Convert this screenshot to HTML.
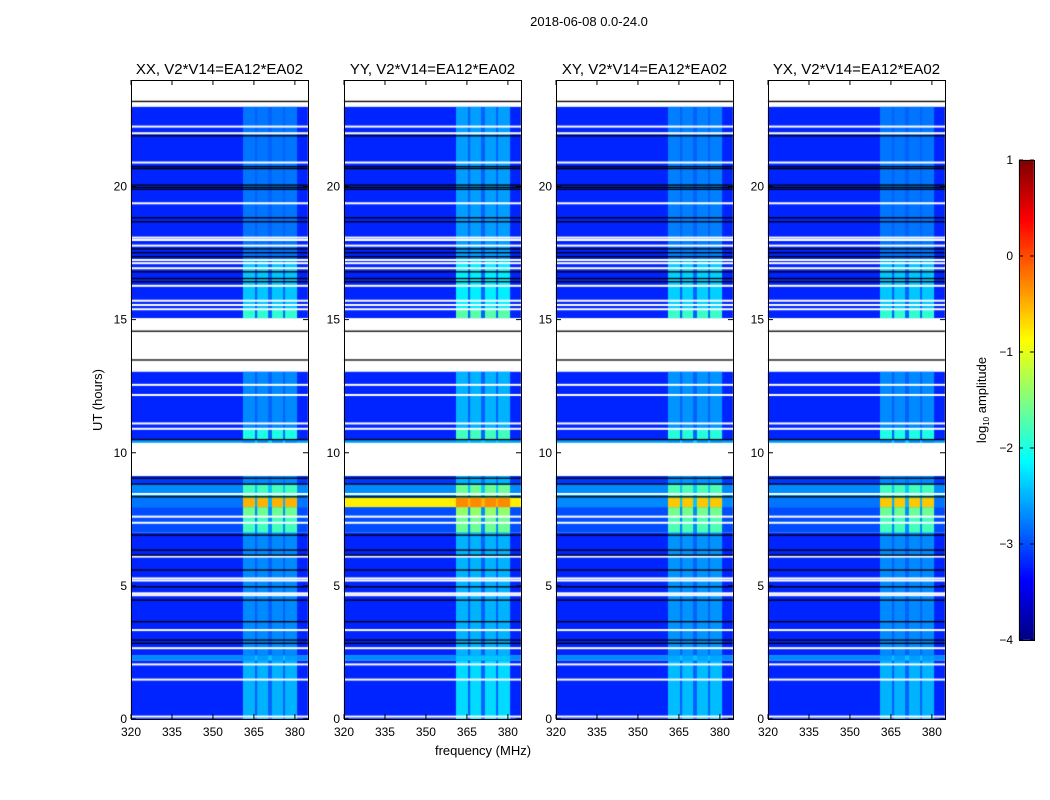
<!DOCTYPE html>
<html><head><meta charset="utf-8">
<style>
body{margin:0;background:#fff;}
#wrap{position:relative;width:1050px;height:800px;overflow:hidden;font-family:"Liberation Sans",sans-serif;}
canvas,svg{position:absolute;left:0;top:0;}
</style></head>
<body>
<div id="wrap">
<canvas id="cv" width="1050" height="800"></canvas>
<svg id="sv" width="1050" height="800"></svg>
</div>
<script>
// ---- data ----
const panelTitles = ["XX, V2*V14=EA12*EA02","YY, V2*V14=EA12*EA02","XY, V2*V14=EA12*EA02","YX, V2*V14=EA12*EA02"];
const xTicks = [320,335,350,365,380];
const yTicks = [0,5,10,15,20];
const cbTicks = [1,0,-1,-2,-3,-4];
// time segments: [startHour, endHour, baseLevel, bandLevel]
const segStart = [0,2.2,2.4,7.0,7.6,7.96,8.3,8.8,10.37,10.5,10.9,15.05,15.4,17.2];
const segEnd   = [2.2,2.4,7.0,7.6,7.96,8.3,8.8,9.13,10.5,10.9,13.05,15.4,17.2,23.0];
const segBase  = [-3.2,-2.7,-3.2,-3.0,-3.0,-2.8,-2.7,-3.1,-2.6,-3.2,-3.2,-3.2,-3.2,-3.2];
const segBand  = [-2.5,-2.6,-2.7,-1.8,-1.6,-0.5,-1.8,-2.7,-2.7,-2.0,-2.7,-1.9,-2.4,-2.8];
const hotSeg = 5;
const hotRowBase = [-2.8,-0.8,-2.7,-2.8];
const hotRowBand = [-0.5,-0.3,-0.6,-0.6];
const bandOffset = [0,0.2,0.05,0];
// bright frequency bands (MHz)
const bandLo = [361,366.2,371.6,376.4];
const bandHi = [365.4,370.2,375.7,380.8];
// flagged (white) gaps in hours
const gapLo = [23.0,13.05,9.13];
const gapHi = [24.0,15.05,10.37];
const whiteLines = [22.25,22.0,20.9,19.37,18.08,17.99,17.78,17.24,17.12,16.93,16.27,15.71,15.55,15.39,12.55,12.17,11.1,10.9,8.45,7.6,7.37,6.1,5.2,5.28,4.65,4.72,3.34,2.66,2.05,1.48,0.09];
const blackLines = [23.2,21.91,20.75,20.68,20.06,19.97,19.9,18.83,18.68,17.66,17.52,17.37,16.8,16.55,16.43,14.57,13.49,10.5,9.05,8.83,8.35,6.91,6.35,6.16,5.6,4.97,4.47,3.66,2.97,2.85];

// ---- geometry ----
const lefts=[131,344,556,768], PW=177, TOP=80, BOT=719;
const fMin=320, fMax=384.8, tMin=0, tMax=24;
function xs(i,f){return lefts[i]+(f-fMin)/(fMax-fMin)*PW;}
function ys(h){return BOT-(h-tMin)/(tMax-tMin)*(BOT-TOP);}
function jet(v){
  let t=Math.max(0,Math.min(1,(v+4)/5));
  function c(x){return Math.round(255*Math.max(0,Math.min(1,x)));}
  const r=c(Math.min(4*t-1.5,-4*t+4.5)), g=c(Math.min(4*t-0.5,-4*t+3.5)), b=c(Math.min(4*t+0.5,-4*t+2.5));
  return `rgb(${r},${g},${b})`;
}
const cv=document.getElementById('cv'), ctx=cv.getContext('2d');
for(let p=0;p<4;p++){
  for(let s=0;s<segStart.length;s++){
    const y0=ys(segEnd[s]), y1=ys(segStart[s]);
    let base=segBase[s], band=segBand[s];
    if(s===hotSeg){base=hotRowBase[p];band=hotRowBand[p];}
    else band+=bandOffset[p];
    ctx.fillStyle=jet(base);
    ctx.fillRect(lefts[p],y0,PW,y1-y0);
    ctx.fillStyle=jet(base+0.3);
    ctx.fillRect(xs(p,bandLo[0]),y0,xs(p,bandHi[3])-xs(p,bandLo[0]),y1-y0);
    for(let b=0;b<bandLo.length;b++){
      ctx.fillStyle=jet(band);
      ctx.fillRect(xs(p,bandLo[b]),y0,xs(p,bandHi[b])-xs(p,bandLo[b]),y1-y0);
    }
  }
  ctx.fillStyle='#fff';
  for(let g=0;g<gapLo.length;g++) ctx.fillRect(lefts[p],ys(gapHi[g]),PW,ys(gapLo[g])-ys(gapHi[g]));
  for(const h of whiteLines) ctx.fillRect(lefts[p],ys(h)-1,PW,2);
  ctx.fillStyle='#000';
  for(const h of blackLines) ctx.fillRect(lefts[p],ys(h)-0.5,PW,1.3);
}
// colorbar
const CBX=1019,CBW=15,CBT=160,CBB=640;
for(let y=CBT;y<CBB;y++){const v=1-(y-CBT)/(CBB-CBT)*5;ctx.fillStyle=jet(v);ctx.fillRect(CBX,y,CBW,1);}

// ---- svg axes ----
const sv=document.getElementById('sv'), NS='http://www.w3.org/2000/svg';
function el(tag,attrs,txt){const e=document.createElementNS(NS,tag);for(const k in attrs)e.setAttribute(k,attrs[k]);if(txt!==undefined)e.textContent=txt;sv.appendChild(e);return e;}
for(let p=0;p<4;p++){
  const r=el('rect',{x:lefts[p]+0.5,y:TOP+0.5,width:PW,height:BOT-TOP,fill:'none',stroke:'#000','stroke-width':1});
  
  
  const t=el('text',{x:lefts[p]+PW/2,y:74,'text-anchor':'middle','font-size':15},panelTitles[p]);
  
  
  for(const f of xTicks){
    const x=xs(p,f);
    el('line',{x1:x,x2:x,y1:BOT,y2:BOT-5,stroke:'#000'});
    el('line',{x1:x,x2:x,y1:TOP,y2:TOP+5,stroke:'#000'});
    const l=el('text',{x:x,y:736,'text-anchor':'middle','font-size':12},String(f));
    
    
  }
  for(const h of yTicks){
    const y=ys(h);
    el('line',{x1:lefts[p],x2:lefts[p]+5,y1:y,y2:y,stroke:'#000'});
    el('line',{x1:lefts[p]+PW,x2:lefts[p]+PW-5,y1:y,y2:y,stroke:'#000'});
    const l=el('text',{x:lefts[p]-4,y:y+4,'text-anchor':'end','font-size':12},String(h));
    
    
  }
}
const st=el('text',{x:589,y:26,'text-anchor':'middle','font-size':13},'2018-06-08 0.0-24.0');


const yl=el('text',{x:0,y:0,'text-anchor':'middle','font-size':13,transform:'translate(102,400) rotate(-90)'},'UT (hours)');


const xl=el('text',{x:483,y:755,'text-anchor':'middle','font-size':13},'frequency (MHz)');


const cbf=el('rect',{x:CBX+0.5,y:CBT+0.5,width:CBW,height:CBB-CBT,fill:'none',stroke:'#000'});


for(const v of cbTicks){
  const y=CBT+(1-v)/5*(CBB-CBT);
  el('line',{x1:CBX,x2:CBX+4,y1:y,y2:y,stroke:'#000'});
  el('line',{x1:CBX+CBW,x2:CBX+CBW-4,y1:y,y2:y,stroke:'#000'});
  const l=el('text',{x:1013,y:y+4,'text-anchor':'end','font-size':12},v<0?'\u2212'+(-v):String(v));
  
  
}
const cl=el('text',{x:0,y:0,'text-anchor':'middle','font-size':13,transform:'translate(986,400) rotate(-90)'});


cl.innerHTML='log<tspan font-size="8" dy="3">10</tspan><tspan dy="-3"> amplitude</tspan>';
</script>
</body></html>
